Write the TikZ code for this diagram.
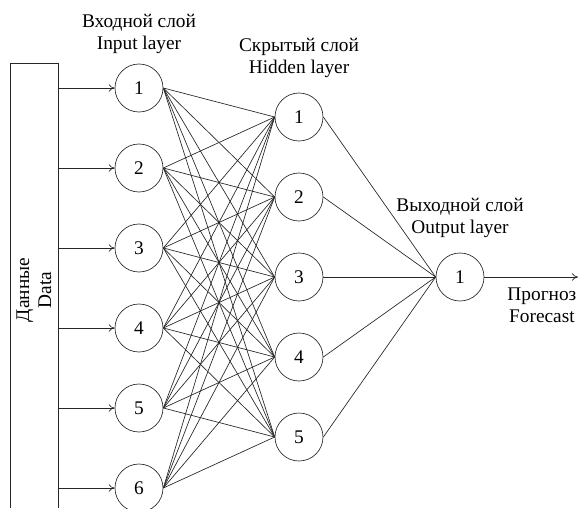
\documentclass[tikz,border=0pt]{standalone}
\usepackage{fontspec}
\setmainfont{Liberation Serif}
\usetikzlibrary{positioning,arrows.meta}
\tikzstyle{neuron} = [circle, draw, minimum size=36pt, inner sep=0pt]
\tikzstyle{title} = [align=center, inner sep=1pt]
\tikzstyle{line} = [draw, -{To[length=4.5pt, width=5.5pt]}]

\begin{document}
\begin{tikzpicture}[x=0.75pt, y=-0.75pt, font=\fontsize{14.5}{16.5}\selectfont, draw=black!85, line width=0.5pt]
	\useasboundingbox (0,0) rectangle (581,508);
	% data block, open at the bottom
	\draw (10,508) |- (58,63) coordinate (data) -- (58,508);
	\node[rotate=90, align=center] (dt) at (34,290) {Данные\\Data};
	
	\foreach \i in {1,...,6}
		\node[neuron] (in\i) at (139,8+80*\i) {\i};
	\foreach \j in {1,...,5}
		\node[neuron] (hid\j) at (299,37+80*\j) {\j};
	\node[neuron] (out) at (460,277) {1};
	\coordinate (fc) at (578,277);
	
	\node[title, above=6pt of in1] (inl) {Входной слой\\Input layer};
	\node[title, above=10pt of hid1] (hidl) {Скрытый слой\\Hidden layer};
	\node[title, above=10pt of out] (outl) {Выходной слой\\Output layer};
	\node[title, below left=7pt and 0pt of fc] (fcl) {Прогноз\\Forecast};
	
	\foreach \i in {1,...,6}
		\path[line] (data |- in\i) -- (in\i);
	\foreach \i in {1,...,6}
		\foreach \j in {1,...,5}
			\draw (in\i.east) -- (hid\j.west);
	\foreach \j in {1,...,5}
		\draw (hid\j.east) -- (out.west);
	\path[line] (out) -- (fc);
\end{tikzpicture}
\end{document}
